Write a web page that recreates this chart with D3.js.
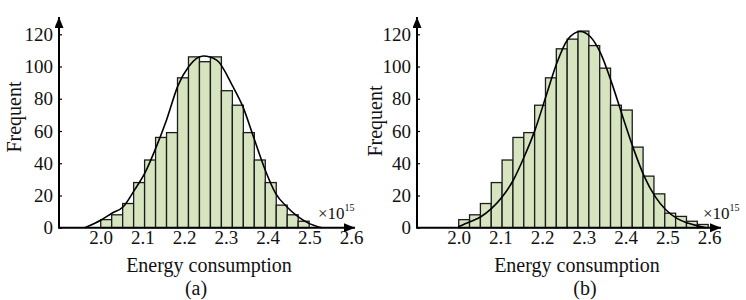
<!DOCTYPE html>
<html>
<head>
<meta charset="utf-8">
<script src="https://cdn.jsdelivr.net/npm/d3@7"></script>
<style>
  body { margin: 0; background: #fff; }
  svg { display: block; font-family: "Liberation Serif", "Times New Roman", serif; }
</style>
</head>
<body>
<svg></svg>
<script>
// histogram (a): bin counts, bins start at 2.0
const binStart = 2.0;
const binWidthA = 0.0263;
const countsA = [5, 8, 15, 28, 42, 56, 59, 93, 106, 103, 106, 85, 76, 59, 42, 28, 14, 8, 4];

// histogram (b)
const binWidthB = 0.026;
const countsB = [5, 8, 15, 28, 42, 56, 59, 76, 93, 111, 117, 122, 113, 99, 76, 73, 50, 32, 21, 9, 7, 4, 2];

// fitted curves
const curveXA = [1.962, 2.001, 2.027, 2.054, 2.080, 2.106, 2.133, 2.158, 2.185, 2.211, 2.246, 2.278, 2.316, 2.341, 2.368, 2.394, 2.420, 2.446, 2.472, 2.499, 2.530];
const curveYA = [0, 4.8, 9, 13, 23, 34, 50, 67, 88, 100, 106.5, 104, 88, 75, 55, 36, 21, 13, 7, 2.7, 0];
const curveXB = [1.999, 2.027, 2.053, 2.079, 2.105, 2.131, 2.157, 2.183, 2.209, 2.235, 2.261, 2.291, 2.315, 2.340, 2.367, 2.393, 2.420, 2.445, 2.471, 2.497, 2.523, 2.551, 2.593];
const curveYB = [0.6, 3.7, 6.8, 12, 19.3, 29.6, 44, 60.7, 81.4, 102, 116.6, 121.7, 118.6, 108.3, 89.7, 69, 48.3, 31.7, 19.3, 11, 5.8, 2.7, 0];

// axes
const xTicks = [2.0, 2.1, 2.2, 2.3, 2.4, 2.5, 2.6];
const yTicks = [0, 20, 40, 60, 80, 100, 120];
const xTitle = "Energy consumption";
const yTitle = "Frequent";
const panelNames = ["(a)", "(b)"];

const svg = d3.select("svg")
  .attr("width", 746)
  .attr("height", 300);

// arrow head for the axes
svg.append("defs").append("marker")
  .attr("id", "arrow")
  .attr("markerUnits", "userSpaceOnUse")
  .attr("markerWidth", 12)
  .attr("markerHeight", 10)
  .attr("refX", 11)
  .attr("refY", 4.5)
  .attr("orient", "auto")
  .append("path")
  .attr("d", "M0,0 L11,4.5 L0,9 Z")
  .attr("fill", "#000");

const y = d3.scaleLinear()
  .domain([0, 120])
  .range([227.7, 34.3]);

const panels = [
  { x0: 59, len: 296, w: binWidthA, counts: countsA, cx: curveXA, cy: curveYA,
    yTitleX: 21, yTitleY: 117, titleX: 209, nameX: 196, expX: 318 },
  { x0: 417, len: 304, w: binWidthB, counts: countsB, cx: curveXB, cy: curveYB,
    yTitleX: 382, yTitleY: 121, titleX: 577, nameX: 585, expX: 703 }
];

panels.forEach((p, k) => {
  const g = svg.append("g");

  const x = d3.scaleLinear()
    .domain([1.9, 2.6])
    .range([p.x0, p.x0 + 292]);

  // bars
  g.selectAll(".bar")
    .data(p.counts).enter().append("rect")
    .attr("class", "bar")
    .attr("x", (d, i) => x(binStart + i * p.w))
    .attr("y", d => y(d))
    .attr("width", x(binStart + p.w) - x(binStart))
    .attr("height", d => y(0) - y(d))
    .attr("fill", "#d6e4c0")
    .attr("stroke", "#1c1c1c")
    .attr("stroke-width", 1.3);

  // fitted curve
  const line = d3.line()
    .x(d => x(d[0]))
    .y(d => y(d[1]))
    .curve(d3.curveMonotoneX);

  g.append("path")
    .attr("d", line(p.cx.map((v, i) => [v, p.cy[i]])))
    .attr("fill", "none")
    .attr("stroke", "#000")
    .attr("stroke-width", 1.6);

  // y axis ticks and labels
  const yAxis = g.append("g")
    .attr("transform", `translate(${p.x0},0)`)
    .call(d3.axisLeft(y).tickValues(yTicks).tickSizeInner(-3).tickSizeOuter(0).tickPadding(6));
  yAxis.select(".domain").remove();
  yAxis.selectAll("line").attr("stroke", "#000").attr("stroke-width", 1.2);
  yAxis.selectAll("text")
    .attr("font-family", "Liberation Serif, serif")
    .attr("font-size", "19px")
    .attr("fill", "#111");

  // x axis labels
  const xAxis = g.append("g")
    .attr("transform", `translate(0,${y(0)})`)
    .call(d3.axisBottom(x).tickValues(xTicks).tickFormat(d3.format(".1f")).tickSize(0).tickPadding(3));
  xAxis.select(".domain").remove();
  xAxis.selectAll("text")
    .attr("font-family", "Liberation Serif, serif")
    .attr("font-size", "19px")
    .attr("fill", "#111");

  // axis lines with arrows
  g.append("line")
    .attr("x1", p.x0).attr("y1", y(0))
    .attr("x2", p.x0).attr("y2", 17)
    .attr("stroke", "#000").attr("stroke-width", 2)
    .attr("marker-end", "url(#arrow)");
  g.append("line")
    .attr("x1", p.x0 - 1).attr("y1", y(0))
    .attr("x2", p.x0 + p.len).attr("y2", y(0))
    .attr("stroke", "#000").attr("stroke-width", 2)
    .attr("marker-end", "url(#arrow)");

  // x10^15 multiplier
  const exp = g.append("text")
    .attr("x", p.expX)
    .attr("y", 218.5)
    .attr("font-size", "17px")
    .attr("fill", "#111");
  exp.append("tspan").text("\u00d710");
  exp.append("tspan").attr("dy", -8).attr("font-size", "10px").text("15");

  // titles
  g.append("text")
    .attr("text-anchor", "middle")
    .attr("transform", "rotate(-90)")
    .attr("x", -p.yTitleY)
    .attr("y", p.yTitleX)
    .attr("font-size", "20px")
    .attr("fill", "#111")
    .text(yTitle);

  g.append("text")
    .attr("text-anchor", "middle")
    .attr("x", p.titleX)
    .attr("y", 272)
    .attr("font-size", "20px")
    .attr("fill", "#111")
    .text(xTitle);

  g.append("text")
    .attr("text-anchor", "middle")
    .attr("x", p.nameX)
    .attr("y", 295)
    .attr("font-size", "20px")
    .attr("fill", "#111")
    .text(panelNames[k]);
});
</script>
</body>
</html>
